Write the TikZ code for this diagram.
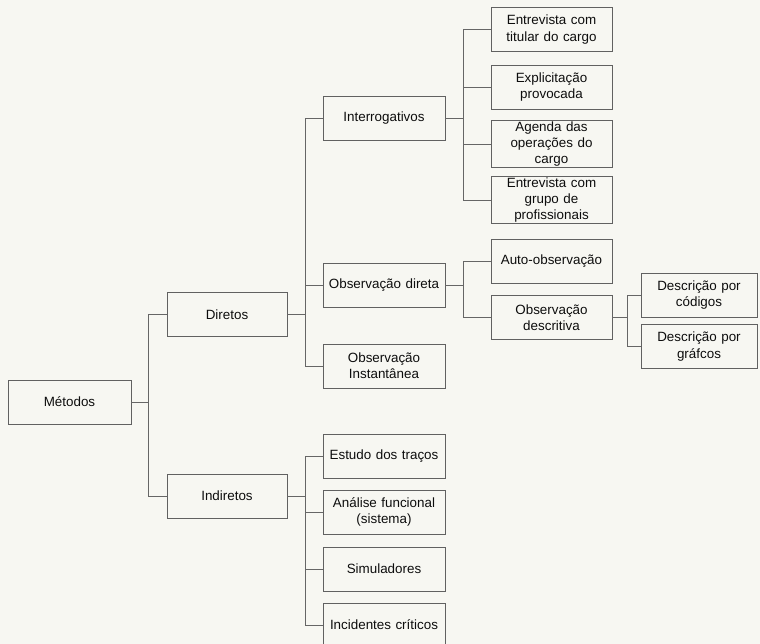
\documentclass[tikz,border=0pt]{standalone}
\usepackage{fontspec}
\setmainfont{Liberation Sans}
\begin{document}
\begin{tikzpicture}[x=1pt,y=-1pt,
  box/.style={draw=black!62, line width=0.8pt, rectangle, align=center,
    text=black!95, font=\fontsize{13.4}{16.2}\selectfont,
    minimum height=44pt, inner sep=1pt},
  wA/.style={minimum width=123pt, text width=118pt},
  wB/.style={minimum width=120pt, text width=116pt},
  wC/.style={minimum width=122pt, text width=118pt},
  wD/.style={minimum width=121pt, text width=118pt},
  wE/.style={minimum width=116pt, text width=112pt},
  link/.style={draw=black!60, line width=0.7pt}]
% page and paper
\fill[color={rgb,255:red,247;green,247;blue,242}] (0,0) rectangle (760,644);
\useasboundingbox (0,0) rectangle (760,644);
\clip (0,0) rectangle (760,644);

% root
\node[box,wA] (met) at (69.5,402) {Métodos};

% first level
\node[box,wB] (dir) at (227,314.5) {Diretos};
\node[box,wB] (ind) at (227,496) {Indiretos};

% second level
\node[box,wC] (intg) at (384,118) {Interrogativos};
\node[box,wC] (obsd) at (384,285) {Observação direta};
\node[box,wC] (obsi) at (384,366) {Observação\\Instantânea};
\node[box,wC] (est) at (384,456) {Estudo dos traços};
\node[box,wC] (ana) at (384,512) {Análise funcional\\(sistema)};
\node[box,wC] (sim) at (384,569) {Simuladores};
\node[box,wC] (inc) at (384,625) {Incidentes críticos};

% third level
\node[box,wD] (e1) at (551.5,29.5) {Entrevista com\\titular do cargo};
\node[box,wD] (e2) at (551.5,87) {Explicitação\\provocada};
\node[box,wD] (e3) at (551.5,144) {Agenda das\\operações do\\cargo};
\node[box,wD] (e4) at (551.5,200) {Entrevista com\\grupo de\\profissionais};
\node[box,wD] (auto) at (551.5,261) {Auto-observação};
\node[box,wD] (desc) at (551.5,317.5) {Observação\\descritiva};

% fourth level
\node[box,wE] (dc) at (699,295) {Descrição por\\códigos};
\node[box,wE] (dg) at (699,346.5) {Descrição por\\gráfcos};

% elbow connectors
\foreach \c in {dir,ind}
  \draw[link] (met.east) -- +(17,0) |- (\c.west);
\foreach \c in {intg,obsd,obsi}
  \draw[link] (dir.east) -- +(18,0) |- (\c.west);
\foreach \c in {est,ana,sim,inc}
  \draw[link] (ind.east) -- +(18,0) |- (\c.west);
\foreach \c in {e1,e2,e3,e4}
  \draw[link] (intg.east) -- +(18,0) |- (\c.west);
\foreach \c in {auto,desc}
  \draw[link] (obsd.east) -- +(18,0) |- (\c.west);
\foreach \c in {dc,dg}
  \draw[link] (desc.east) -- +(15,0) |- (\c.west);
\end{tikzpicture}
\end{document}
